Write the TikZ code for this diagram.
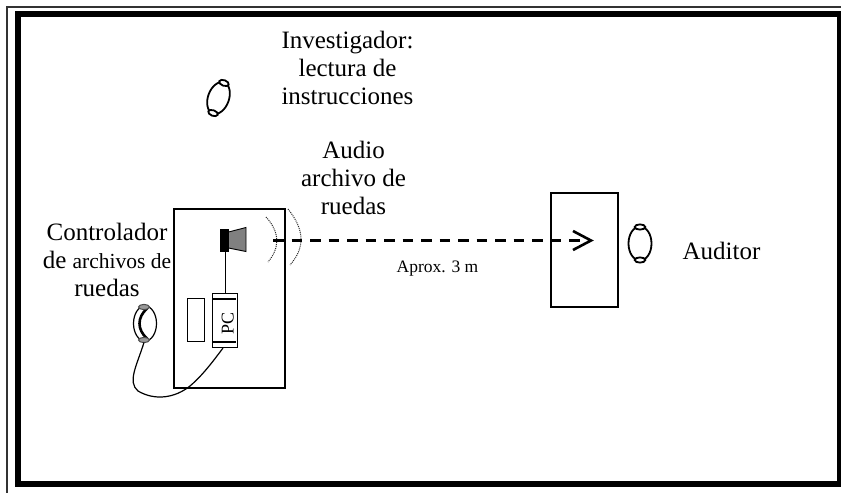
\documentclass[tikz,border=0pt]{standalone}
\usepackage{fontspec}
\setmainfont{Liberation Serif}
\tikzset{
  x=1pt,y=-1pt,
  lbl/.style={align=center,inner sep=0pt,font=\fontsize{25}{28}\selectfont},
  person/.style={draw=black,line width=1.8pt,fill=white},
  head/.style={draw=black!70,fill=black!40,line width=1pt},
  box/.style={draw=black,line width=2pt,fill=white,inner sep=0pt,anchor=north west},
  thinbox/.style={draw=black,line width=1.5pt,fill=white,inner sep=0pt,anchor=north west},
  wave/.style={draw=black!85,line width=1pt,densely dotted},
}
\begin{document}
\begin{tikzpicture}
\useasboundingbox (0,0) rectangle (841,493);
\draw[draw=black!80,line width=1.5pt] (841,7) -- (7,7) -- (7,493);
\draw[line width=6pt] (18.3,14.2) rectangle (840,483.5);
% boxes
\node[box,minimum width=111pt,minimum height=179pt] (room) at (172.5,207.5) {};
\node[box,minimum width=67pt,minimum height=114pt] (auditbox) at (550,191.5) {};
% investigator
\begin{scope}[shift={(218.5,98)},rotate=-20]
\draw[person] (0,0) ellipse (10.5 and 16.5);
\draw[person] (0,-16) ellipse (5 and 2.8);
\draw[person] (0,16) ellipse (5 and 2.8);
\end{scope}
% auditor
\begin{scope}[shift={(640,243.5)}]
\draw[person] (0,0) ellipse (11.5 and 17);
\draw[person] (0,-16.5) ellipse (5.3 and 2.6);
\draw[person] (0,16.5) ellipse (5.3 and 2.6);
\end{scope}
% controller
\begin{scope}[shift={(145,323.5)}]
\draw[line width=1.2pt,draw=black,fill=white] (0,0) ellipse (11.5 and 17.5);
\draw[line width=2.6pt] (2,-15) .. controls (-8,-6) and (-8,6) .. (2,15);
\draw[head] (-1,-16.5) ellipse (5.5 and 2.6);
\draw[head] (-1,16.5) ellipse (5.5 and 2.6);
\coordinate (ctrlb) at (-1,19);
\end{scope}
% small rectangle
\node[thinbox,minimum width=17pt,minimum height=43pt] (screen) at (186.5,297.5) {};
% PC
\node[thinbox,minimum width=25pt,minimum height=54pt] (pc) at (211.5,292.5) {};
\draw[line width=1.3pt] (212,299) -- (236,299) (212,342) -- (236,342);
\node[rotate=90,inner sep=0pt,font=\fontsize{18}{18}\selectfont] at (227.7,323) {PC};
% speaker
\node[draw=black,fill=black,inner sep=0pt,minimum width=8pt,minimum height=22pt] (spkback) at (224,240) {};
\draw[draw=black,fill=black!50,line width=.9pt] (228.5,232) -- (246,227.5) -- (246,251.5) -- (228.5,248) -- cycle;
\coordinate (spkbot) at (225.7,251);
\coordinate (pctop) at (225.7,293);
\draw[line width=1.3pt] (spkbot) -- (pctop);
% sound waves
\draw[wave] (266,217) .. controls (280,232) and (280,248) .. (268,262);
\draw[wave] (288,209) .. controls (305,230) and (305,248) .. (290,265);
% cable
\coordinate (pcb) at (223,348);
\draw[line width=1.2pt] (ctrlb) .. controls (137,365) and (127,382) .. (138,391) .. controls (155,401) and (175,398) .. (190,386) .. controls (203,375) and (214,360) .. (pcb);
% dashed arrow
\coordinate (waveend) at (273,240.5);
\coordinate (tipc) at (591,240.5);
\draw[line width=2.8pt,dash pattern=on 10.5pt off 8pt] (waveend) -- (tipc);
\draw[line width=2.6pt] (573,231) -- (591,240.5) -- (573,250);
% labels
\node[lbl] at (347.5,67.5) {Investigador:\\lectura de\\instrucciones};
\node[lbl] at (353.5,177.5) {Audio\\archivo de\\ruedas};
\node[lbl] at (107,260) {Controlador\\de {\fontsize{21.5}{28}\selectfont archivos de}\\ruedas};
\node[inner sep=0pt,font=\fontsize{17.5}{18}\selectfont] at (437.5,269) {Aprox. 3 m};
\node[inner sep=0pt,font=\fontsize{25}{28}\selectfont] at (721.5,251) {Auditor};
\end{tikzpicture}
\end{document}
